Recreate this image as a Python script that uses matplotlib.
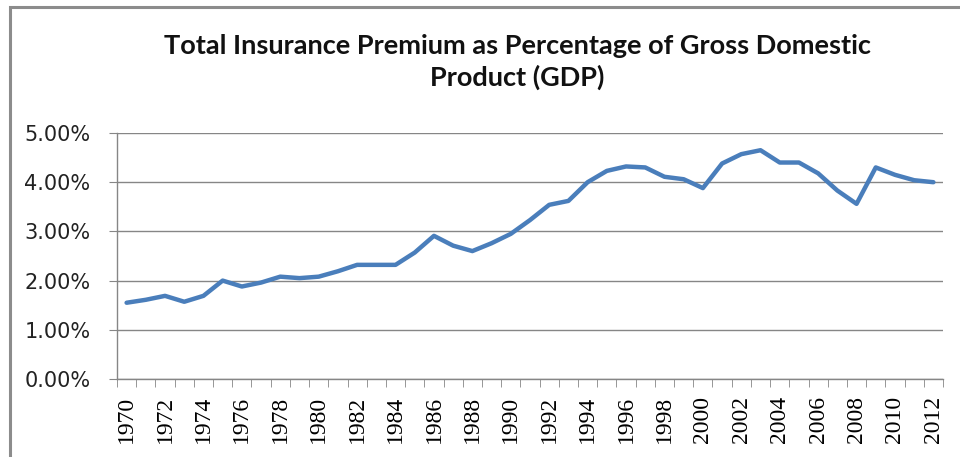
import matplotlib

matplotlib.use("Agg")
import matplotlib.pyplot as plt  # noqa: E402
from matplotlib.patches import Rectangle  # noqa: E402
from matplotlib.ticker import FixedLocator, FuncFormatter  # noqa: E402

LINE = "#4A7EBB"
GRID = "#868686"

years = list(range(1970, 2013))
premium_pct = [
    1.55, 1.61, 1.69, 1.57, 1.69, 2.00, 1.88, 1.96, 2.08, 2.05,
    2.08, 2.19, 2.32, 2.32, 2.32, 2.57, 2.91, 2.71, 2.60, 2.76,
    2.95, 3.23, 3.54, 3.62, 4.00, 4.23, 4.32, 4.30, 4.11, 4.06,
    3.88, 4.38, 4.57, 4.65, 4.40, 4.40, 4.18, 3.83, 3.56, 4.30,
    4.15, 4.04, 4.00,
]
y_ticks = [0, 1, 2, 3, 4, 5]
title = "Total Insurance Premium as Percentage of Gross Domestic\nProduct (GDP)"

fig = plt.figure(figsize=(9.6, 4.57), dpi=100)
ax = fig.add_axes([117 / 960, 1 - 379 / 457, 826 / 960, 246 / 457])

# outer chart border (Excel-style frame)
fig.patches.append(Rectangle((10 / 960, -0.1), 1.2, 1 - 7 / 457 + 0.1,
                             transform=fig.transFigure, fill=False,
                             edgecolor="#8c8c8c", linewidth=2.2))

pos = list(range(len(years)))
ax.plot(pos, premium_pct, color=LINE, linewidth=3.2, solid_joinstyle="round",
        solid_capstyle="round", zorder=3)

ax.set_xlim(-0.5, len(years) - 0.5)
ax.set_ylim(0, 5)
ax.set_yticks(y_ticks)
ax.yaxis.set_major_formatter(FuncFormatter(lambda v, _: f"{v:.2f}%"))
ax.grid(axis="y", color=GRID, linewidth=1.0, zorder=1)

# year labels every other year, ticks between categories
ax.xaxis.set_major_locator(FixedLocator(pos[::2]))
ax.set_xticklabels([str(y) for y in years[::2]], rotation=90,
                   family="Liberation Serif", fontsize=17)
ax.xaxis.set_minor_locator(FixedLocator([p - 0.5 for p in pos] + [len(years) - 0.5]))
ax.tick_params(axis="x", which="major", length=0, pad=12)
ax.tick_params(axis="x", which="minor", length=6, color=GRID, direction="out")
ax.tick_params(axis="y", length=6, color=GRID, pad=13, labelsize=15, labelcolor="#222222")

for s in ["top", "right"]:
    ax.spines[s].set_visible(False)
for s in ["left", "bottom"]:
    ax.spines[s].set_color(GRID)
    ax.spines[s].set_linewidth(1.0)

fig.text(517 / 960, 1 - 62 / 457, title, ha="center", va="center",
         family="Lato", fontweight="bold", fontsize=19.5, linespacing=1.35,
         color="#111111")

fig.savefig("out.png", dpi=100)
plt.close(fig)
